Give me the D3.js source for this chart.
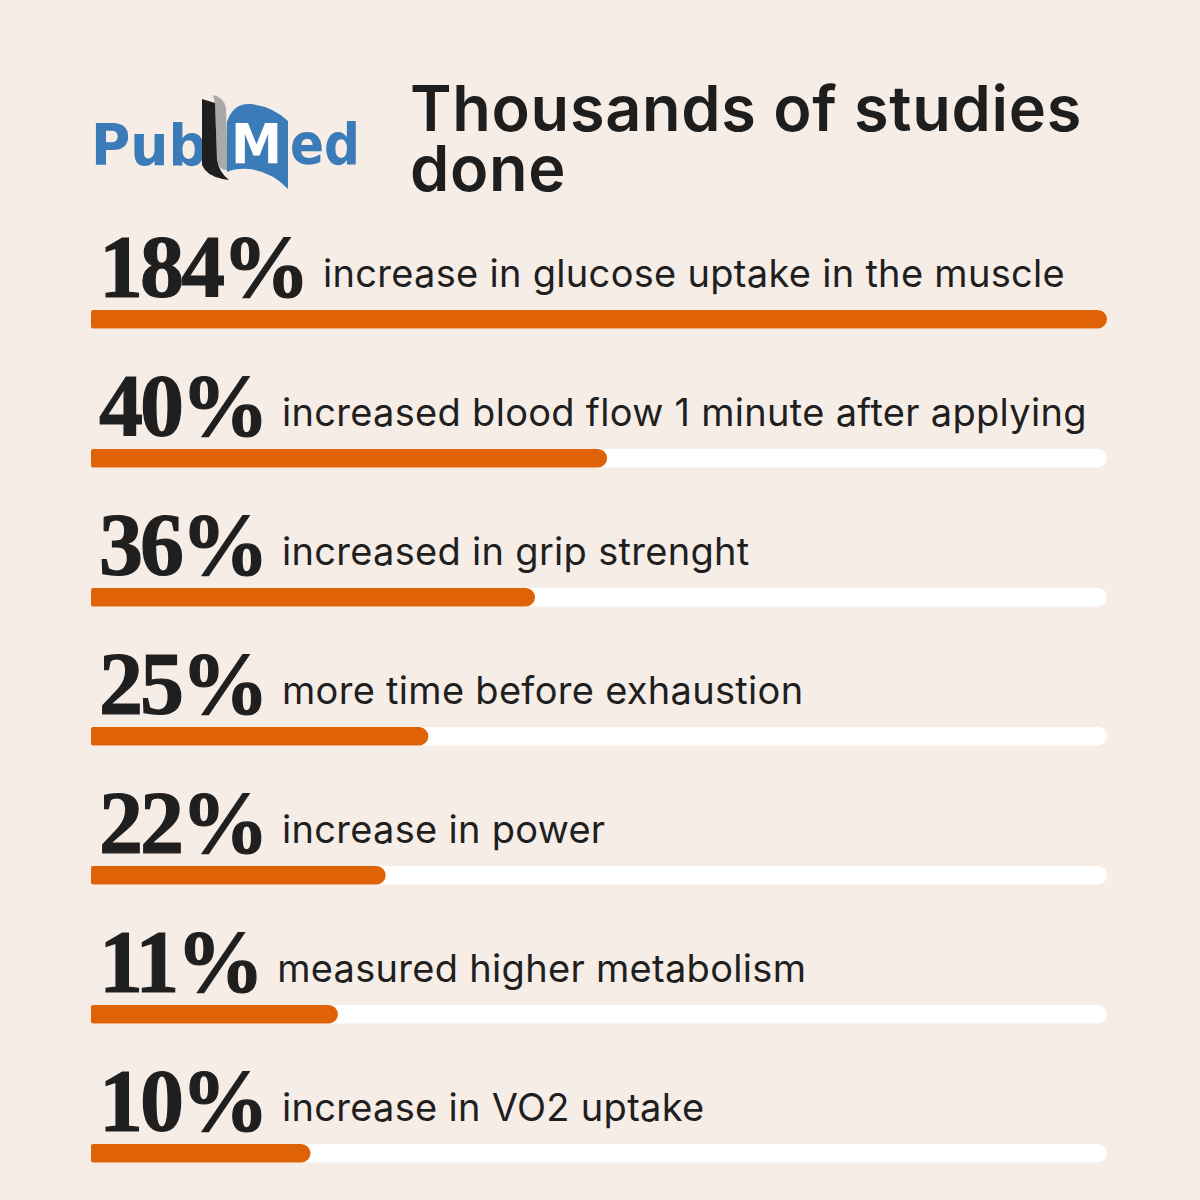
<!DOCTYPE html>
<html>
<head>
<meta charset="utf-8">
<script src="https://cdn.jsdelivr.net/npm/d3@7"></script>
<style>
  html, body { margin: 0; padding: 0; background: #f6ede7; }
  svg { display: block; }
</style>
</head>
<body>
<script>
// ---- data ----
const values = [184, 40, 36, 25, 22, 11, 10];
const labels = [
  "increase in glucose uptake in the muscle",
  "increased blood flow 1 minute after applying",
  "increased in grip strenght",
  "more time before exhaustion",
  "increase in power",
  "measured higher metabolism",
  "increase in VO2 uptake"
];
// filled share of each bar's track
const barShare = [1.0, 0.508, 0.437, 0.332, 0.290, 0.243, 0.216];
const titleLines = ["Thousands of studies", "done"];

// ---- layout ----
const W = 1200, H = 1200;
const svg = d3.select("body").append("svg").attr("width", W).attr("height", H);
svg.append("rect").attr("width", W).attr("height", H).attr("fill", "#f6ede7");

const x = d3.scaleLinear().domain([0, 1]).range([91, 1107]);
const y = d3.scaleLinear().domain([0, values.length - 1]).range([310, 1144]);
const barH = 18.5;

function barPath(x0, x1, y0, h) {
  const r = h / 2, rl = 2;
  const p = d3.path();
  p.moveTo(x0 + rl, y0);
  p.lineTo(x1 - r, y0);
  p.arc(x1 - r, y0 + r, r, -Math.PI / 2, Math.PI / 2);
  p.lineTo(x0 + rl, y0 + h);
  p.quadraticCurveTo(x0, y0 + h, x0, y0 + h - rl);
  p.lineTo(x0, y0 + rl);
  p.quadraticCurveTo(x0, y0, x0 + rl, y0);
  p.closePath();
  return p.toString();
}

// ---- logo ----
const logo = svg.append("g");
const blue = "#3a7bb8";
logo.append("text").attr("x", 91).attr("y", 165)
  .attr("font-family", "DejaVu Sans").attr("font-weight", 700).attr("font-size", 57)
  .attr("fill", blue).attr("textLength", 116).attr("lengthAdjust", "spacingAndGlyphs").text("Pub");
// gray page
logo.append("path")
  .attr("d", "M213,95 Q224,97 226,108 L228,170 Q221,171 217,163 L215,104 Z")
  .attr("fill", "#a9a9a9");
// black page
logo.append("path")
  .attr("d", "M202,99 L215,103 L217,160 Q219,172 229,180 Q212,178 205,170 L202,165 Z")
  .attr("fill", "#1f1f1f");
// blue page
logo.append("path")
  .attr("d", "M227,172 L227,122 Q233,103 250,104 Q272,106 288,121 L288,189 Q272,172 250,169 Q236,168 227,172 Z")
  .attr("fill", blue);
logo.append("text").attr("x", 231).attr("y", 163)
  .attr("font-family", "DejaVu Sans").attr("font-weight", 700).attr("font-size", 55)
  .attr("fill", "#ffffff").attr("textLength", 51).attr("lengthAdjust", "spacingAndGlyphs").text("M");
logo.append("text").attr("x", 290).attr("y", 164)
  .attr("font-family", "DejaVu Sans").attr("font-weight", 700).attr("font-size", 57)
  .attr("fill", blue).attr("textLength", 70).attr("lengthAdjust", "spacingAndGlyphs").text("ed");

// ---- title ----
const title = svg.append("text")
  .attr("font-family", "Inter").attr("font-weight", 600).attr("font-size", 63)
  .attr("letter-spacing", 0.7)
  .attr("fill", "#1e1e1e");
title.selectAll("tspan").data(titleLines).join("tspan")
  .attr("x", 410).attr("y", (d, i) => 131 + i * 60)
  .text(d => d);

// ---- rows ----
const rows = svg.append("g").selectAll("g").data(values).join("g");

rows.append("path")
  .attr("d", (d, i) => barPath(x(0), x(1), y(i), barH))
  .attr("fill", "#ffffff");
rows.append("path")
  .attr("d", (d, i) => barPath(x(0), x(barShare[i]), y(i), barH))
  .attr("fill", "#e06206");

const nums = rows.append("text")
  .attr("x", 99).attr("y", (d, i) => y(i) - 14)
  .attr("font-family", "Liberation Serif").attr("font-weight", 700).attr("font-size", 88)
  .attr("letter-spacing", -3)
  .attr("fill", "#1f1f1f").attr("stroke", "#1f1f1f").attr("stroke-width", 1.2)
  .text(d => d + "%");

rows.append("text")
  .attr("x", function (d, i) {
    const bb = nums.nodes()[i].getBBox();
    return bb.x + bb.width + 16;
  })
  .attr("y", (d, i) => y(i) - 23)
  .attr("font-family", "Inter").attr("font-weight", 400).attr("font-size", 38)
  .attr("letter-spacing", 0.3)
  .attr("fill", "#1f1f1f")
  .text((d, i) => labels[i]);
</script>
</body>
</html>
